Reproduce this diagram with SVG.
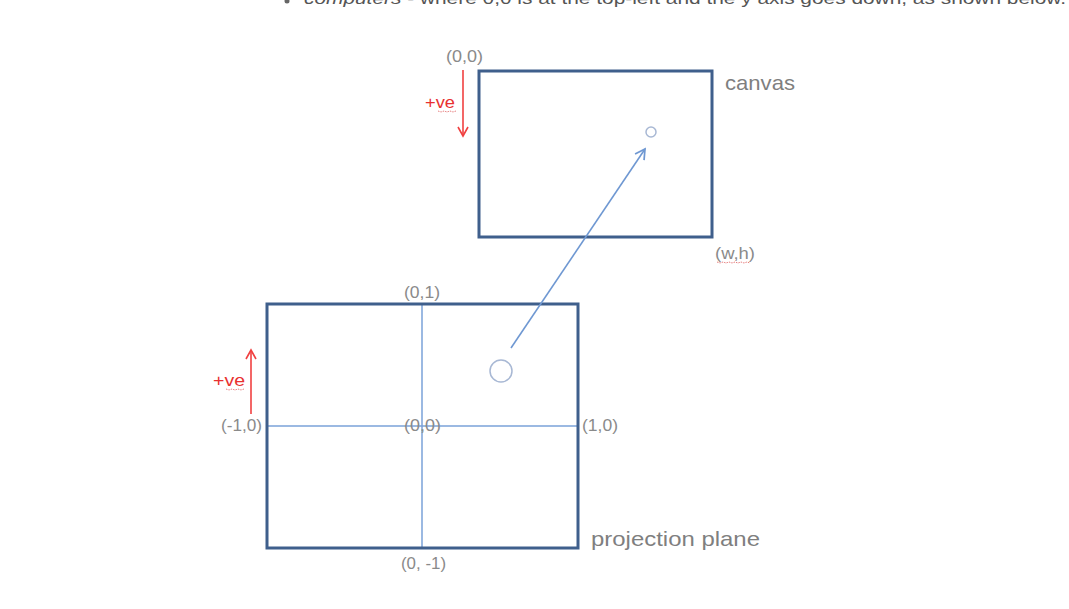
<svg xmlns="http://www.w3.org/2000/svg" width="1069" height="609" viewBox="0 0 1069 609">
<style>
.lbl{font-family:"Liberation Sans",Arial,sans-serif;font-size:16px;fill:#8a8a8a}
.big{font-family:"Liberation Sans",Arial,sans-serif;font-size:21px;fill:#7f7f7f}
.red{font-family:"Liberation Sans",Arial,sans-serif;font-size:17px;fill:#e83030}
.frame{fill:none;stroke:#3f5f8c;stroke-width:3}
.axis{stroke:#7aa2d8;stroke-width:1.5;fill:none}
.redarrow{stroke:#f04040;stroke-width:1.6;fill:none}
.squig{stroke:#e06060;stroke-width:0.8;fill:none;stroke-dasharray:1.5 1}
</style>
<defs>
<marker id="vred" viewBox="0 0 12 12" refX="10" refY="6" markerWidth="12" markerHeight="12" markerUnits="userSpaceOnUse" orient="auto">
<path d="M1,1 L10,6 L1,11" fill="none" stroke="#f04040" stroke-width="1.6"/>
</marker>
<marker id="vblue" viewBox="0 0 12 12" refX="10" refY="6" markerWidth="13" markerHeight="13" markerUnits="userSpaceOnUse" orient="auto">
<path d="M1,1 L10,6 L1,11" fill="none" stroke="#6f98d2" stroke-width="1.6"/>
</marker>
</defs>
<rect width="1069" height="609" fill="#ffffff"/>
<circle cx="287" cy="1" r="2.5" fill="#666666"/>
<text x="304" y="4" font-family="'Liberation Sans',Arial,sans-serif" font-size="17" fill="#555555" textLength="762" lengthAdjust="spacingAndGlyphs"><tspan font-style="italic">computers</tspan> - where 0,0 is at the top-left and the y axis goes down, as shown below.</text>

<g id="canvas">
<rect class="frame" x="479" y="71" width="233" height="166"/>
<text class="lbl" x="446" y="62" textLength="37" lengthAdjust="spacingAndGlyphs">(0,0)</text>
<text class="big" x="725" y="90" textLength="70" lengthAdjust="spacingAndGlyphs">canvas</text>
<text class="lbl" x="715" y="259" textLength="40" lengthAdjust="spacingAndGlyphs">(w,h)</text>
<path class="squig" d="M717,262 l3,1 l3,-1 l3,1 l3,-1 l3,1 l3,-1 l3,1 l3,-1 l3,1 l3,-1 l3,1"/>
<circle cx="651" cy="132" r="5" fill="none" stroke="#a8b8d4" stroke-width="1.5"/>
</g>

<g id="canvas-axis">
<text class="red" x="425" y="108" textLength="30" lengthAdjust="spacingAndGlyphs">+ve</text>
<path class="squig" d="M438,111 l3,1 l3,-1 l3,1 l3,-1 l3,1 l3,-1"/>
<line class="redarrow" x1="463" y1="70" x2="463" y2="136" marker-end="url(#vred)"/>
</g>

<g id="projection-plane">
<line class="axis" x1="422" y1="304" x2="422" y2="548"/>
<line class="axis" x1="267" y1="426" x2="578" y2="426"/>
<rect class="frame" x="267" y="304" width="311" height="244"/>
<text class="lbl" x="404" y="298" textLength="36" lengthAdjust="spacingAndGlyphs">(0,1)</text>
<text class="lbl" x="221" y="431" textLength="41" lengthAdjust="spacingAndGlyphs">(-1,0)</text>
<text class="lbl" x="582" y="431" textLength="36" lengthAdjust="spacingAndGlyphs">(1,0)</text>
<text class="lbl" x="404" y="431" textLength="37" lengthAdjust="spacingAndGlyphs">(0,0)</text>
<text class="lbl" x="401" y="569" textLength="45" lengthAdjust="spacingAndGlyphs">(0, -1)</text>
<text class="big" x="591" y="546" textLength="169" lengthAdjust="spacingAndGlyphs">projection plane</text>
<circle cx="501" cy="371" r="11" fill="none" stroke="#a8b8d4" stroke-width="1.5"/>
</g>

<g id="plane-axis">
<text class="red" x="213" y="386" textLength="32" lengthAdjust="spacingAndGlyphs">+ve</text>
<path class="squig" d="M226,389 l3,1 l3,-1 l3,1 l3,-1 l3,1 l3,-1"/>
<line class="redarrow" x1="251" y1="414" x2="251" y2="350" marker-end="url(#vred)"/>
</g>

<g id="connectors">
<line x1="511" y1="348" x2="645" y2="149" stroke="#6f98d2" stroke-width="1.6" marker-end="url(#vblue)"/>
</g>
</svg>
